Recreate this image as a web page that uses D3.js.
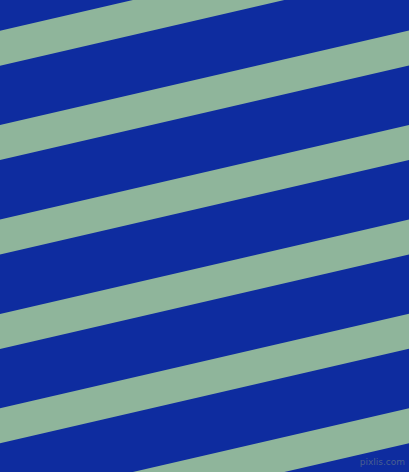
<!DOCTYPE html>
<html>
<head>
<meta charset="utf-8">
<script src="https://cdn.jsdelivr.net/npm/d3@7"></script>
<style>
html,body{margin:0;padding:0;background:#0e2c9f;overflow:hidden;}
svg{display:block;}
</style>
</head>
<body>
<script>
// Stripe pattern data
const stripeIndex = [-1, 0, 1, 2, 3, 4, 5];
const colors = ["#0e2c9f", "#8fb59b"];
const watermark = ["pixlis.com"];

const W = 409, H = 472;
const period = 94.4, offset = 30.7, band = 35, rise = 94.5;

const svg = d3.select("body").append("svg").attr("width", W).attr("height", H);

svg.append("rect").attr("width", W).attr("height", H).attr("fill", colors[0]);

const x = d3.scaleLinear().domain([0, 1]).range([0, W]);
const y0 = d3.scaleLinear().domain([0, 1]).range([offset, offset + period]);

const line = d3.line().x(d => d[0]).y(d => d[1]);

svg.selectAll("path.stripe").data(stripeIndex).join("path")
  .attr("class", "stripe")
  .attr("fill", colors[1])
  .attr("d", i => {
    const a = y0(i);
    return line([[x(0), a], [x(1), a - rise], [x(1), a - rise + band], [x(0), a + band]]) + "Z";
  });

svg.selectAll("text.wm").data(watermark).join("text")
  .attr("class", "wm")
  .attr("x", 405).attr("y", 465)
  .attr("text-anchor", "end")
  .attr("font-family", "DejaVu Sans, sans-serif")
  .attr("font-size", 9)
  .attr("fill", "#4a5f8f")
  .text(d => d);
</script>
</body>
</html>
